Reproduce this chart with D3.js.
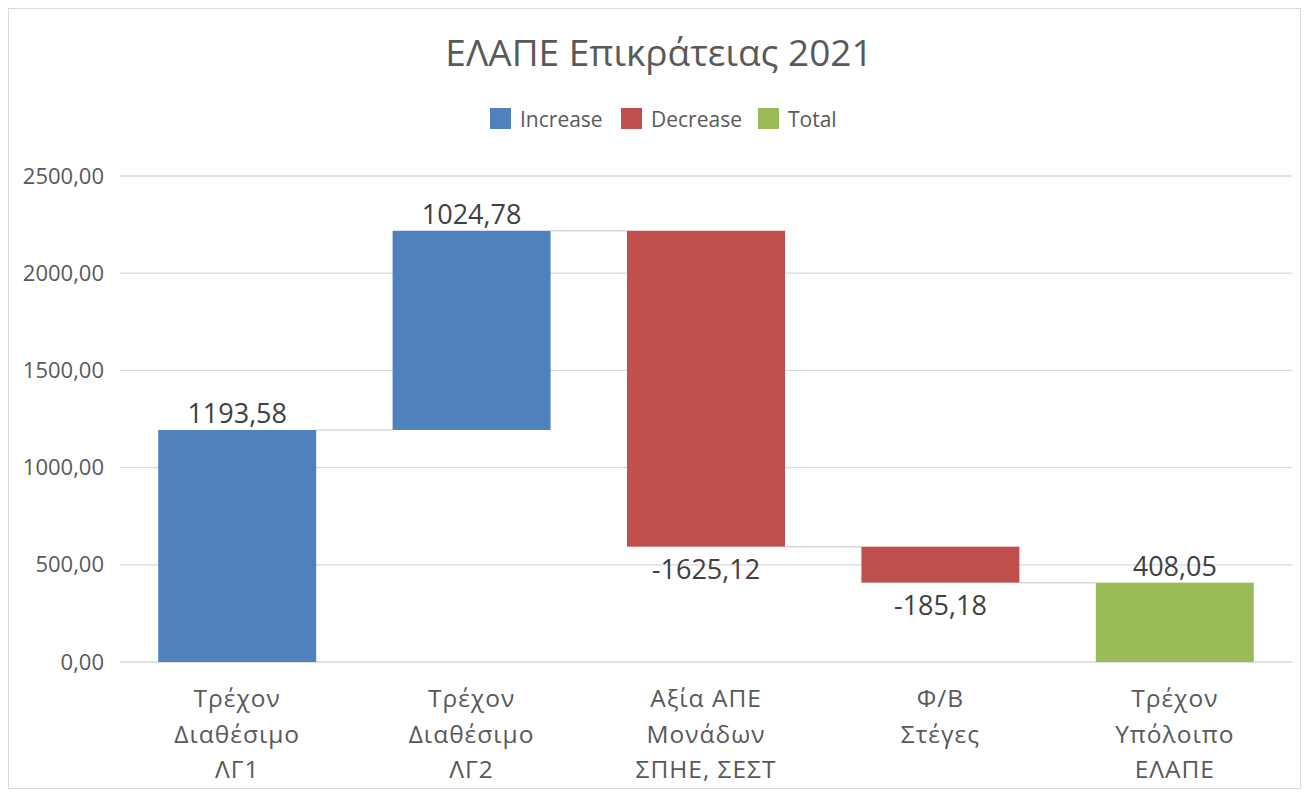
<!DOCTYPE html>
<html>
<head>
<meta charset="utf-8">
<script src="https://cdn.jsdelivr.net/npm/d3@7"></script>
<style>
    body { margin: 0; background: #fff; }
    svg { font-family: 'Open Sans', 'Noto Sans', sans-serif; }
    .grid line { stroke: #d9d9d9; stroke-width: 1.3; }
    .axis text { fill: #595959; font-size: 22px; }
    .cat text { fill: #595959; font-size: 24.5px; letter-spacing: 1px; }
    .value-label { fill: #404040; font-size: 27px; }
    .connector { stroke: #d9d9d9; stroke-width: 1.5; }
</style>
</head>
<body>
<svg width="1306" height="793"></svg>
<script>
'use strict';

// data
var categories = [
    ['Τρέχον', 'Διαθέσιμο', 'ΛΓ1'],
    ['Τρέχον', 'Διαθέσιμο', 'ΛΓ2'],
    ['Αξία ΑΠΕ', 'Μονάδων', 'ΣΠΗΕ, ΣΕΣΤ'],
    ['Φ/Β', 'Στέγες'],
    ['Τρέχον', 'Υπόλοιπο', 'ΕΛΑΠΕ']
];
var values = [1193.58, 1024.78, -1625.12, -185.18, 408.05];
var kinds = ['Increase', 'Increase', 'Decrease', 'Decrease', 'Total'];
var yTicks = [0, 500, 1000, 1500, 2000, 2500];
var legendNames = ['Increase', 'Decrease', 'Total'];
var colors = { Increase: '#4f81bd', Decrease: '#c0504d', Total: '#9bbb59' };

var svg = d3.select('svg');
var plotLeft = 120, plotRight = 1292, plotTop = 176, plotBottom = 662;

// chart border
svg.append('rect')
    .attr('x', 8.5).attr('y', 8.5)
    .attr('width', 1292).attr('height', 780)
    .attr('fill', 'none')
    .attr('stroke', '#d9d9d9');

svg.append('text')
    .attr('x', 659).attr('y', 66)
    .attr('text-anchor', 'middle')
    .attr('fill', '#595959')
    .style('font-size', '37px')
    .text('ΕΛΑΠΕ Επικράτειας 2021');

// waterfall steps
var running = 0;
var steps = values.map(function(v, i) {
    var step = { i: i, value: v, kind: kinds[i] };
    if (kinds[i] === 'Total') {
        step.start = 0;
        step.end = v;
    } else {
        step.start = running;
        step.end = running + v;
    }
    running = step.end;
    return step;
});

var x = d3.scaleBand()
    .domain(d3.range(categories.length))
    .range([plotLeft, plotRight])
    .paddingInner(0.326)
    .paddingOuter(0.163);
var y = d3.scaleLinear()
    .domain([0, 2500])
    .range([plotBottom, plotTop]);

// grid
svg.append('g')
    .attr('class', 'grid')
    .selectAll('line')
    .data(yTicks)
    .enter()
    .append('line')
    .attr('x1', plotLeft).attr('x2', plotRight)
    .attr('y1', function(d) { return y(d); })
    .attr('y2', function(d) { return y(d); });

// y axis labels
var fmt = function(d) { return d3.format('.2f')(d).replace('.', ','); };
var yAxis = svg.append('g')
    .attr('class', 'axis')
    .attr('transform', 'translate(' + plotLeft + ',0)')
    .call(d3.axisLeft(y).tickValues(yTicks).tickFormat(fmt).tickSize(0).tickPadding(16));
yAxis.select('.domain').remove();
yAxis.attr('font-family', null).attr('font-size', null);

// connectors
svg.selectAll('.connector')
    .data(steps.slice(0, -1))
    .enter()
    .append('line')
    .attr('class', 'connector')
    .attr('x1', function(d) { return x(d.i) + x.bandwidth(); })
    .attr('x2', function(d) { return x(d.i + 1); })
    .attr('y1', function(d) { return y(d.end); })
    .attr('y2', function(d) { return y(d.end); });

// bars
svg.selectAll('.bar')
    .data(steps)
    .enter()
    .append('rect')
    .attr('class', 'bar')
    .attr('x', function(d) { return x(d.i); })
    .attr('width', x.bandwidth())
    .attr('y', function(d) { return y(Math.max(d.start, d.end)); })
    .attr('height', function(d) { return Math.abs(y(d.start) - y(d.end)); })
    .attr('fill', function(d) { return colors[d.kind]; });

// value labels
var numFmt = function(v) { return d3.format('.2f')(v).replace('.', ',').replace('−', '-'); };
svg.selectAll('.value-label')
    .data(steps)
    .enter()
    .append('text')
    .attr('class', 'value-label')
    .attr('text-anchor', 'middle')
    .attr('x', function(d) { return x(d.i) + x.bandwidth() / 2; })
    .attr('y', function(d) {
        return d.value < 0 ? y(d.end) + 32 : y(d.end) - 7;
    })
    .text(function(d) { return numFmt(d.value); });

// category labels
var cat = svg.append('g').attr('class', 'cat');
cat.selectAll('text')
    .data(categories)
    .enter()
    .append('text')
    .attr('text-anchor', 'middle')
    .attr('x', function(d, i) { return x(i) + x.bandwidth() / 2; })
    .attr('y', 707)
    .each(function(lines) {
        var t = d3.select(this);
        lines.forEach(function(line, k) {
            t.append('tspan')
                .attr('x', t.attr('x'))
                .attr('dy', k === 0 ? 0 : 35.5)
                .text(line);
        });
    });

// legend
var legendX = [490, 621, 758];
var legend = svg.selectAll('.legend')
    .data(legendNames)
    .enter()
    .append('g')
    .attr('class', 'legend')
    .attr('transform', function(d, i) { return 'translate(' + legendX[i] + ',108)'; });
legend.append('rect')
    .attr('width', 21).attr('height', 21)
    .attr('fill', function(d) { return colors[d]; });
legend.append('text')
    .attr('x', 30).attr('y', 19)
    .attr('fill', '#595959')
    .style('font-size', '21px')
    .text(function(d) { return d; });
</script>
</body>
</html>
